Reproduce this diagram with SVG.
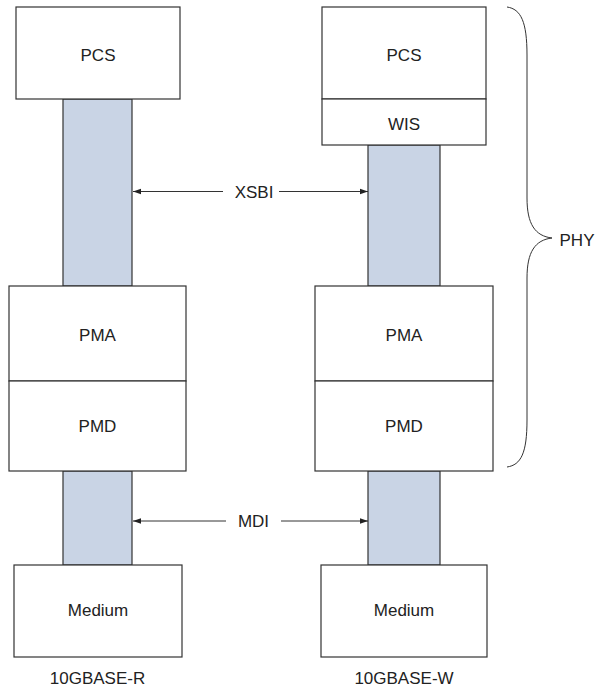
<svg xmlns="http://www.w3.org/2000/svg" width="605" height="687" viewBox="0 0 605 687">
<defs>
<marker id="ah" viewBox="0 0 10 10" refX="10" refY="5" markerWidth="8" markerHeight="8" markerUnits="userSpaceOnUse" orient="auto-start-reverse">
<path d="M0,1.5 L10,5 L0,8.5 Z" fill="#222"/>
</marker>
<style>
.box{fill:#fff;stroke:#333;stroke-width:1.2}
.bar{fill:#c9d4e5;stroke:#333;stroke-width:1.2}
.lbl{font-family:"Liberation Sans",Arial,sans-serif;font-size:17px;fill:#222;text-anchor:middle}
.conn{stroke:#333;stroke-width:1;fill:none}
</style>
</defs>
<rect width="605" height="687" fill="#fff"/>
<g id="bars">
<rect class="bar" x="63" y="99" width="69" height="187"/>
<rect class="bar" x="63" y="471" width="69" height="94"/>
<rect class="bar" x="368" y="145" width="72" height="141"/>
<rect class="bar" x="368" y="471" width="72" height="94"/>
</g>
<g id="pcs-r"><rect class="box" x="16" y="7" width="164" height="92"/><text class="lbl" x="98" y="61">PCS</text></g>
<g id="pma-r"><rect class="box" x="9" y="286" width="177" height="95"/><text class="lbl" x="97.5" y="341">PMA</text></g>
<g id="pmd-r"><rect class="box" x="9" y="381" width="177" height="90"/><text class="lbl" x="97.5" y="432">PMD</text></g>
<g id="medium-r"><rect class="box" x="14" y="565" width="168" height="92"/><text class="lbl" x="98" y="616">Medium</text></g>
<g id="pcs-w"><rect class="box" x="322" y="7" width="164" height="92"/><text class="lbl" x="404" y="61">PCS</text></g>
<g id="wis-w"><rect class="box" x="322" y="99" width="164" height="46"/><text class="lbl" x="404" y="130">WIS</text></g>
<g id="pma-w"><rect class="box" x="315" y="286" width="178" height="95"/><text class="lbl" x="404" y="341">PMA</text></g>
<g id="pmd-w"><rect class="box" x="315" y="381" width="178" height="90"/><text class="lbl" x="404" y="432">PMD</text></g>
<g id="medium-w"><rect class="box" x="321" y="565" width="166" height="92"/><text class="lbl" x="404" y="616">Medium</text></g>
<g id="connectors">
<line class="conn" x1="223" y1="191.5" x2="133" y2="191.5" marker-end="url(#ah)"/>
<line class="conn" x1="279" y1="191.5" x2="368" y2="191.5" marker-end="url(#ah)"/>
<line class="conn" x1="226" y1="521" x2="133" y2="521" marker-end="url(#ah)"/>
<line class="conn" x1="281" y1="521" x2="368" y2="521" marker-end="url(#ah)"/>
<path class="conn" d="M507,7 C521,9 527,22 527,55 L527,198 C527,224 535,236 552,238 C535,240 527,252 527,278 L527,420 C527,453 521,465 507,467"/>
</g>
<g id="labels">
<text class="lbl" x="254" y="198">XSBI</text>
<text class="lbl" x="253.5" y="527">MDI</text>
<text class="lbl" x="577" y="246">PHY</text>
<text class="lbl" x="97.5" y="684">10GBASE-R</text>
<text class="lbl" x="404" y="684">10GBASE-W</text>
</g>
</svg>
